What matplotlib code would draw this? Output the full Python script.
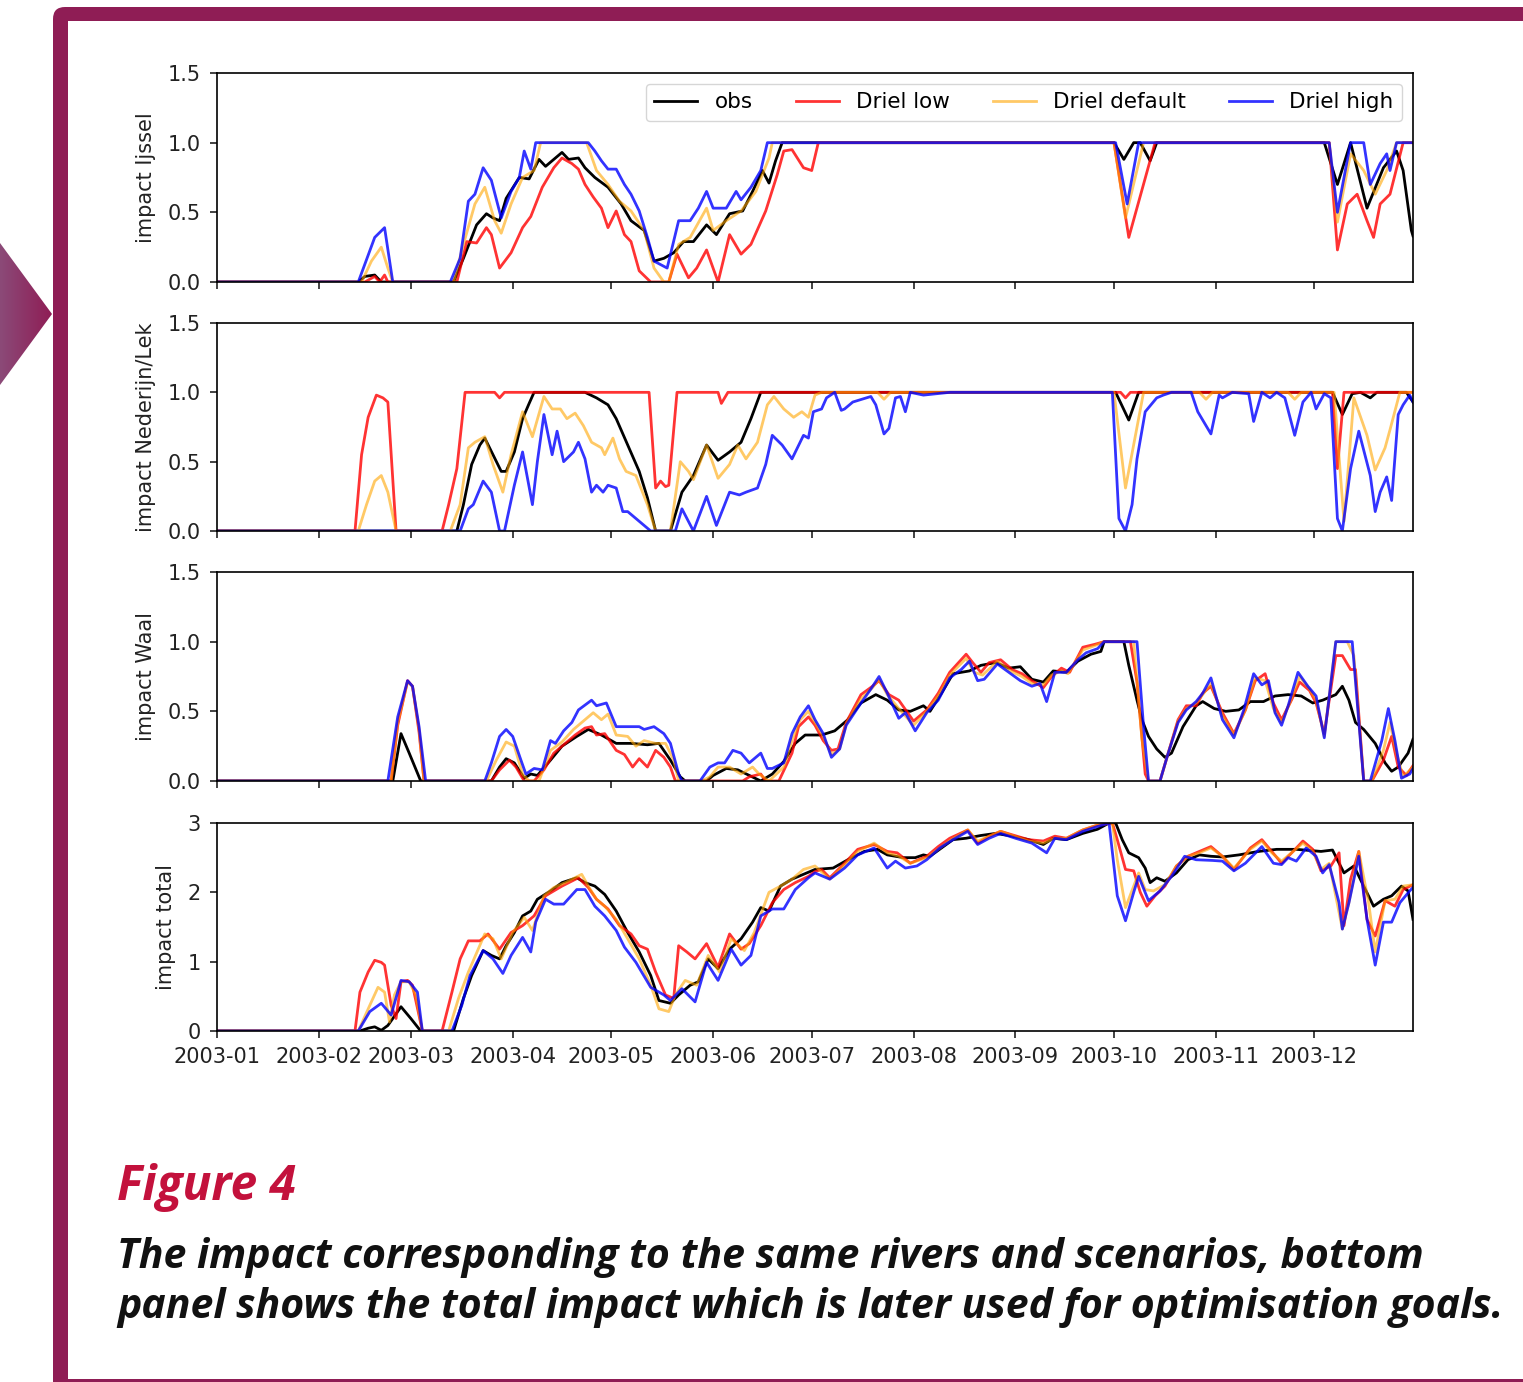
import numpy as np
import matplotlib
matplotlib.use('Agg')
import matplotlib.pyplot as plt
import matplotlib.dates as mdates
from matplotlib.patches import FancyBboxPatch, Rectangle, Polygon
from matplotlib.colors import LinearSegmentedColormap

# ---- data: (day of 2003, impact) pairs ----
series_names = ['obs', 'Driel low', 'Driel default', 'Driel high']

ijssel_obs = [(0, 0), (43, 0), (45, 0.04), (48, 0.05), (50, 0), (72, 0), (75, 0.17), (79, 0.41), (82, 0.49),
              (84, 0.46), (86, 0.44), (88, 0.60), (92, 0.75), (95, 0.74), (98, 0.88), (100, 0.83), (105, 0.93),
              (107, 0.88), (110, 0.89), (112, 0.82), (115, 0.75), (119, 0.68), (123, 0.56), (126, 0.44),
              (130, 0.37), (133, 0.15), (136, 0.17), (139, 0.21), (142, 0.29), (145, 0.29), (149, 0.41),
              (152, 0.34), (156, 0.49), (160, 0.51), (163, 0.65), (166, 0.80), (168, 0.71), (170, 0.87),
              (172, 1.0), (273, 1.0), (276, 0.88), (279, 1.0), (281, 1.0), (284, 0.87), (286, 1.0), (337, 1.0),
              (341, 0.70), (345, 1.0), (350, 0.53), (355, 0.82), (359, 0.94), (361, 0.80), (363.5, 0.37),
              (364, 0.33)]
ijssel_low = [(0, 0), (45, 0), (48, 0.04), (49.5, 0.0), (51, 0.05), (52, 0), (73, 0), (76, 0.29), (79, 0.28),
              (82, 0.39), (83.5, 0.34), (86, 0.10), (89.5, 0.21), (93, 0.39), (95.5, 0.47), (99, 0.68),
              (102.5, 0.82), (105, 0.89), (108, 0.85), (110, 0.81), (112, 0.70), (114.5, 0.61), (117, 0.53),
              (119, 0.39), (121.5, 0.51), (124, 0.34), (126, 0.29), (128.5, 0.08), (132, 0), (137.5, 0),
              (140, 0.20), (143.5, 0.03), (146, 0.10), (149, 0.23), (152.5, 0), (156, 0.34), (159.5, 0.20),
              (162.5, 0.27), (167, 0.51), (170.5, 0.77), (172.5, 0.94), (175, 0.95), (178.5, 0.82), (181, 0.80),
              (183, 1.0), (273, 1.0), (277.5, 0.32), (285.5, 1.0), (338.5, 1.0), (341, 0.23), (344, 0.56),
              (347, 0.63), (350, 0.44), (352, 0.32), (354, 0.56), (357, 0.63), (361, 1.0), (364, 1.0)]
ijssel_default = [(0, 0), (44, 0), (47, 0.15), (50, 0.25), (52, 0.10), (53.5, 0), (72, 0), (75, 0.27),
                  (78.5, 0.56), (81.5, 0.68), (84.5, 0.44), (86.5, 0.35), (89.5, 0.56), (93, 0.75), (96.5, 0.80),
                  (98.5, 1.0), (112.5, 1.0), (115.5, 0.80), (119, 0.70), (122.5, 0.58), (126, 0.51), (130, 0.37),
                  (133, 0.10), (136, 0), (137.5, 0), (140.5, 0.27), (144, 0.32), (149, 0.53), (151, 0.37),
                  (155, 0.44), (159.5, 0.51), (164, 0.65), (168, 0.89), (169, 1.0), (273, 1.0), (276.5, 0.46),
                  (282, 1.0), (338.5, 1.0), (341, 0.43), (345, 0.92), (349, 0.80), (352.5, 0.63), (356, 0.80),
                  (359, 1.0), (364, 1.0)]
ijssel_high = [(0, 0), (43, 0), (48, 0.32), (51, 0.39), (53.5, 0), (71, 0), (74, 0.17), (76.5, 0.58),
               (78.5, 0.63), (81, 0.82), (83.5, 0.73), (86.5, 0.46), (89.5, 0.65), (92, 0.75), (93.5, 0.94),
               (95.5, 0.81), (97, 1.0), (113, 1.0), (115, 0.94), (117, 0.87), (119, 0.81), (121.5, 0.81),
               (124, 0.70), (126, 0.63), (128.5, 0.51), (131, 0.32), (133, 0.15), (137, 0.10), (140.5, 0.44),
               (144, 0.44), (146.5, 0.53), (149, 0.65), (151, 0.53), (155, 0.53), (158, 0.65), (159.5, 0.59),
               (162.5, 0.68), (165.5, 0.80), (167.5, 1.0), (273.5, 1.0), (277, 0.56), (280.5, 1.0),
               (338.5, 1.0), (341, 0.50), (345, 1.0), (349, 1.0), (351, 0.70), (354, 0.85), (356, 0.92),
               (357, 0.80), (359, 1.0), (364, 1.0)]

lek_obs = [(0, 0), (73, 0), (75, 0.19), (77.5, 0.48), (80, 0.62), (81.5, 0.67), (84, 0.55), (86.5, 0.43),
           (88, 0.43), (90.5, 0.57), (93, 0.81), (95, 0.92), (96.5, 1.0), (112, 1.0), (115.5, 0.96), (119, 0.91),
           (121.5, 0.81), (125, 0.62), (128.5, 0.43), (131, 0.24), (133.5, 0), (138, 0), (141.5, 0.28),
           (145, 0.40), (149, 0.62), (152.5, 0.51), (156, 0.57), (159.5, 0.64), (162.5, 0.81), (165.5, 1.0),
           (273.5, 1.0), (277.5, 0.80), (280.5, 1.0), (339.5, 1.0), (342.5, 0.84), (345.5, 0.99), (348, 1.0),
           (351, 0.96), (353, 1.0), (362, 1.0), (364, 0.93)]
lek_low = [(0, 0), (42, 0), (44, 0.55), (46, 0.82), (48.5, 0.98), (50.5, 0.96), (52, 0.93), (54.5, 0),
           (68.5, 0), (70.5, 0.19), (73, 0.45), (75.5, 1.0), (84.5, 1.0), (86, 0.96), (87.5, 1.0), (131.5, 1.0),
           (133.5, 0.31), (135, 0.36), (136.5, 0.32), (137.5, 0.33), (140, 1.0), (152.5, 1.0), (153.5, 0.92),
           (155.5, 1.0), (275, 1.0), (276.5, 0.96), (278, 1.0), (339.5, 1.0), (341, 0.45), (343, 1.0),
           (364, 1.0)]
lek_default = [(0, 0), (43, 0), (45.5, 0.19), (48, 0.36), (50, 0.40), (52, 0.28), (54.5, 0), (71, 0),
               (74, 0.19), (76.5, 0.60), (78.5, 0.64), (81.5, 0.68), (84, 0.48), (87, 0.28), (89.5, 0.55),
               (93, 0.86), (96, 0.68), (99.5, 0.97), (102, 0.88), (104.5, 0.88), (106.5, 0.81), (109, 0.85),
               (111.5, 0.76), (114, 0.64), (117, 0.60), (118, 0.55), (120.5, 0.67), (122.5, 0.52), (124.5, 0.43),
               (127.5, 0.40), (131, 0.19), (133.5, 0), (138, 0), (141, 0.50), (143.5, 0.43), (145, 0.37),
               (149, 0.62), (152.5, 0.38), (156, 0.48), (158.5, 0.62), (161, 0.52), (164.5, 0.64), (167.5, 0.91),
               (169.5, 0.97), (172.5, 0.88), (175.5, 0.82), (178, 0.86), (180, 0.82), (182, 0.98), (184, 1.0),
               (201, 1.0), (203, 0.95), (205, 1.0), (273, 1.0), (276.5, 0.31), (282, 1.0), (299, 1.0),
               (301, 0.95), (303, 1.0), (326, 1.0), (328, 0.95), (330, 1.0), (340, 1.0), (343, 0.07), (346, 0.96),
               (350, 0.69), (352.5, 0.44), (355.5, 0.60), (357, 0.73), (360, 1.0), (364, 1.0)]
lek_high = [(0, 0), (74, 0), (76.5, 0.16), (78, 0.19), (81, 0.36), (83.5, 0.28), (86, 0), (87.5, 0),
            (90.5, 0.33), (93, 0.57), (96, 0.19), (97.5, 0.50), (99.5, 0.84), (102, 0.55), (103.5, 0.72),
            (105.5, 0.50), (108.5, 0.57), (110, 0.64), (112, 0.52), (114, 0.28), (115.5, 0.33), (117.5, 0.28),
            (119, 0.33), (121.5, 0.31), (123.5, 0.14), (125, 0.14), (127.5, 0.09), (130, 0.04), (132, 0),
            (139.5, 0), (141.5, 0.16), (145, 0), (149, 0.25), (152, 0.04), (156, 0.28), (159, 0.26), (161, 0.28),
            (164.5, 0.31), (167, 0.48), (169, 0.69), (172, 0.62), (175, 0.52), (178.5, 0.69), (180, 0.67),
            (181.5, 0.86), (184, 0.88), (185.5, 0.96), (188, 1.0), (190, 0.87), (191, 0.88), (193.5, 0.93),
            (199, 0.97), (200.5, 0.91), (203, 0.70), (204.5, 0.74), (206.5, 0.96), (208, 0.97), (209.5, 0.86),
            (211, 1.0), (215, 0.98), (219, 0.99), (223, 1.0), (272.5, 1.0), (274.5, 0.09), (276.5, 0),
            (278.5, 0.19), (280, 0.52), (282.5, 0.86), (286, 0.96), (288, 0.98), (290.5, 1.0), (296.5, 1.0),
            (298.5, 0.86), (302.5, 0.70), (305, 0.98), (306, 0.96), (309, 1.0), (314, 0.99), (315.5, 0.79),
            (318, 1.0), (320.5, 0.96), (322.5, 1.0), (325, 0.96), (328, 0.69), (330.5, 0.93), (333, 1.0),
            (334.5, 0.88), (337, 0.99), (339, 0.96), (341, 0.09), (342.5, 0), (345, 0.45), (347.5, 0.72),
            (351, 0.40), (352.5, 0.14), (354, 0.28), (356, 0.39), (357.5, 0.22), (359.5, 0.84), (361, 0.91),
            (363, 0.98), (364, 0.93)]

waal_obs = [(0, 0), (53.5, 0), (56, 0.34), (58.5, 0.20), (62, 0), (83.5, 0), (86, 0.10), (88, 0.16),
            (90.5, 0.13), (93.5, 0.02), (95.5, 0.05), (97.5, 0.04), (101.5, 0.15), (105, 0.25), (109.5, 0.32),
            (113, 0.37), (117, 0.33), (121.5, 0.27), (126, 0.27), (131, 0.26), (134.5, 0.27), (138, 0.15),
            (141, 0.03), (142.5, 0), (149, 0), (151, 0.04), (155, 0.09), (158.5, 0.08), (162, 0.04),
            (165.5, 0), (169, 0.05), (172.5, 0.14), (176, 0.27), (179, 0.33), (182, 0.33), (184, 0.33),
            (188, 0.36), (192, 0.44), (196, 0.56), (200.5, 0.62), (204, 0.58), (207.5, 0.51), (211, 0.50),
            (215, 0.54), (217, 0.50), (220.5, 0.63), (224, 0.77), (229, 0.79), (232.5, 0.83), (237, 0.85),
            (241, 0.81), (244.5, 0.82), (248, 0.73), (251.5, 0.71), (254.5, 0.79), (258.5, 0.78), (262, 0.86),
            (266, 0.91), (269, 0.93), (270, 1.0), (276, 1.0), (277.5, 0.83), (280, 0.58), (281.5, 0.44),
            (283.5, 0.32), (286, 0.23), (288.5, 0.17), (290.5, 0.20), (294, 0.39), (298, 0.54), (300, 0.57),
            (303.5, 0.52), (307, 0.50), (311, 0.51), (314.5, 0.57), (318.5, 0.57), (322, 0.61), (326, 0.62),
            (330, 0.61), (333.5, 0.56), (336.5, 0.58), (340.5, 0.62), (342.5, 0.68), (344.5, 0.58),
            (346.5, 0.42), (349, 0.37), (352.5, 0.27), (355.5, 0.13), (357.5, 0.07), (359.5, 0.10),
            (362.5, 0.20), (364, 0.30)]
waal_low = [(0, 0), (53, 0), (55, 0.40), (58, 0.72), (59.5, 0.68), (61.5, 0.35), (63, 0), (83.5, 0),
            (86, 0.08), (89, 0.15), (91, 0.10), (93.5, 0), (96.5, 0), (99.5, 0.08), (102.5, 0.20), (106, 0.27),
            (109, 0.33), (112, 0.38), (114, 0.39), (115.5, 0.33), (118, 0.34), (121.5, 0.22), (124, 0.19),
            (126.5, 0.10), (128.5, 0.16), (131, 0.10), (133.5, 0.22), (136, 0.17), (138, 0.10), (139.5, 0),
            (160, 0), (162, 0.03), (165.5, 0.05), (167, 0), (171, 0), (175, 0.20), (177, 0.39), (180, 0.46),
            (182, 0.40), (184.5, 0.29), (187, 0.22), (189, 0.23), (191.5, 0.42), (196, 0.62), (199.5, 0.68),
            (201.5, 0.72), (204.5, 0.62), (207.5, 0.58), (212, 0.43), (216, 0.51), (219.5, 0.63), (223, 0.78),
            (228, 0.91), (230, 0.85), (232.5, 0.78), (235, 0.85), (238.5, 0.87), (242, 0.80), (245, 0.77),
            (248, 0.72), (251.5, 0.67), (254, 0.75), (257, 0.81), (259.5, 0.78), (263.5, 0.96), (267, 0.98),
            (270, 1.0), (278, 1.0), (280, 0.71), (282.5, 0.05), (283.5, 0), (287, 0), (289.5, 0.20),
            (292.5, 0.44), (295, 0.54), (298, 0.54), (300, 0.63), (302.5, 0.68), (306, 0.49), (309.5, 0.34),
            (313, 0.51), (316, 0.72), (319, 0.77), (321.5, 0.56), (324, 0.44), (327, 0.58), (329.5, 0.71),
            (332.5, 0.65), (334.5, 0.56), (337, 0.34), (340.5, 0.90), (342.5, 0.90), (345, 0.80), (346.5, 0.80),
            (349, 0), (351.5, 0), (355, 0.15), (357.5, 0.32), (359.5, 0.10), (362, 0.04), (364, 0.11)]
waal_default = [(0, 0), (53, 0), (55, 0.42), (58, 0.71), (59.5, 0.68), (61.5, 0.37), (63, 0), (82, 0),
                (85, 0.15), (88, 0.28), (90.5, 0.25), (93, 0.05), (95, 0), (98, 0), (101.5, 0.22), (105, 0.28),
                (108.5, 0.37), (112, 0.44), (114.5, 0.49), (117, 0.44), (119, 0.48), (121.5, 0.33), (125, 0.32),
                (127.5, 0.25), (130, 0.29), (133.5, 0.27), (136.5, 0.27), (139, 0.15), (140.5, 0), (147.5, 0),
                (150, 0.03), (152.5, 0.10), (156, 0.10), (159.5, 0.05), (163, 0.10), (165, 0.05), (168, 0),
                (172.5, 0.10), (175, 0.29), (177.5, 0.44), (180, 0.50), (182, 0.42), (184.5, 0.32), (187, 0.19),
                (189.5, 0.23), (191.5, 0.41), (196, 0.59), (199.5, 0.67), (201.5, 0.73), (204, 0.62),
                (207.5, 0.52), (212, 0.40), (216, 0.50), (219.5, 0.61), (223, 0.76), (228, 0.88), (230.5, 0.78),
                (233, 0.76), (237.5, 0.86), (241.5, 0.79), (245, 0.75), (248, 0.70), (251.5, 0.69), (254, 0.76),
                (257, 0.79), (259, 0.77), (263.5, 0.94), (267, 0.97), (270, 1.0), (279, 1.0), (281.5, 0.30),
                (283.5, 0), (287, 0), (289.5, 0.20), (292.5, 0.43), (295, 0.52), (298, 0.56), (300, 0.62),
                (302.5, 0.70), (306, 0.47), (309.5, 0.33), (313, 0.51), (316, 0.74), (319, 0.72), (321.5, 0.52),
                (324, 0.42), (326.5, 0.56), (329.5, 0.75), (332.5, 0.66), (334.5, 0.58), (337, 0.32),
                (340.5, 1.0), (344, 1.0), (346, 0.90), (349, 0), (351.5, 0), (355, 0.22), (357, 0.42),
                (359, 0.20), (361, 0.03), (364, 0.10)]
waal_high = [(0, 0), (52, 0), (55, 0.46), (58, 0.72), (59.5, 0.68), (61.5, 0.39), (63.5, 0), (81.5, 0),
             (83.5, 0.13), (86, 0.32), (88, 0.37), (90, 0.32), (92.5, 0.15), (94, 0.05), (96.5, 0.09), (99, 0.08),
             (101.5, 0.29), (103, 0.27), (105.5, 0.36), (108, 0.42), (110, 0.51), (114, 0.58), (115.5, 0.54),
             (118.5, 0.56), (121.5, 0.39), (125, 0.39), (128.5, 0.39), (130, 0.37), (133, 0.39), (136, 0.34),
             (138, 0.27), (140.5, 0.05), (141.5, 0), (147, 0), (150, 0.10), (152.5, 0.13), (154.5, 0.13),
             (157, 0.22), (159.5, 0.20), (162, 0.13), (165.5, 0.20), (167.5, 0.09), (169, 0.09), (172.5, 0.13),
             (175, 0.34), (177.5, 0.46), (180, 0.54), (182, 0.44), (184.5, 0.34), (187, 0.17), (189.5, 0.23),
             (191.5, 0.40), (196, 0.56), (199, 0.66), (201.5, 0.75), (204, 0.63), (207.5, 0.45), (209.5, 0.49),
             (212.5, 0.36), (216, 0.49), (219.5, 0.58), (223, 0.74), (226.5, 0.80), (229, 0.86), (231.5, 0.72),
             (233.5, 0.73), (237.5, 0.84), (241, 0.78), (244.5, 0.72), (248, 0.68), (250.5, 0.70),
             (252.5, 0.57), (255, 0.78), (258.5, 0.78), (262, 0.87), (264.5, 0.92), (268, 0.95), (270, 1.0),
             (280, 1.0), (282, 0.39), (283.5, 0), (287, 0), (289.5, 0.20), (292.5, 0.42), (295, 0.51),
             (298, 0.57), (300, 0.63), (302.5, 0.74), (306, 0.44), (309.5, 0.31), (312.5, 0.51), (315.5, 0.77),
             (318, 0.69), (320, 0.72), (322, 0.49), (324, 0.40), (326, 0.54), (329, 0.78), (332, 0.68),
             (334.5, 0.61), (337, 0.31), (340.5, 1.0), (345.5, 1.0), (349, 0), (351, 0), (354.5, 0.29),
             (356.5, 0.52), (358.5, 0.29), (360.5, 0.02), (363, 0.05), (364, 0.09)]

total_obs = [(0, 0), (43.5, 0), (46, 0.04), (48, 0.06), (50, 0.01), (52, 0.08), (53.5, 0.18), (56, 0.35),
             (59, 0.18), (62, 0), (72, 0), (75, 0.47), (77.5, 0.80), (81, 1.16), (83.5, 1.09), (86, 1.04),
             (88, 1.23), (90.5, 1.42), (93, 1.66), (95.5, 1.73), (97.5, 1.90), (101.5, 2.02), (105, 2.14),
             (109.5, 2.21), (112, 2.14), (115, 2.09), (118, 1.97), (121.5, 1.73), (125, 1.42), (128.5, 1.14),
             (132, 0.80), (134.5, 0.44), (138, 0.40), (140.5, 0.52), (144, 0.66), (146.5, 0.71), (149.5, 1.04),
             (152.5, 0.90), (156, 1.18), (159.5, 1.33), (163, 1.57), (165.5, 1.78), (168, 1.73), (171.5, 2.09),
             (175, 2.19), (178.5, 2.26), (182, 2.33), (187.5, 2.35), (192, 2.47), (197, 2.59), (201, 2.62),
             (204, 2.54), (209, 2.50), (212.5, 2.50), (215, 2.54), (217, 2.52), (220.5, 2.64), (224, 2.76),
             (228, 2.78), (232.5, 2.82), (237, 2.85), (242, 2.81), (247, 2.76), (251.5, 2.69), (254.5, 2.78),
             (258.5, 2.76), (263.5, 2.85), (268, 2.91), (271.5, 3.0), (273.5, 3.0), (275.5, 2.76), (277.5, 2.57),
             (280.5, 2.50), (282.5, 2.35), (284, 2.14), (286, 2.21), (288.5, 2.16), (292, 2.28), (295.5, 2.47),
             (299, 2.54), (302.5, 2.52), (306, 2.51), (311, 2.54), (317, 2.59), (322.5, 2.62), (328.5, 2.62),
             (336, 2.59), (339.5, 2.61), (341.5, 2.42), (343, 2.28), (346, 2.38), (349, 2.09), (352, 1.80),
             (355, 1.90), (357.5, 1.95), (360.5, 2.09), (362.5, 2.02), (364, 1.61)]
total_low = [(0, 0), (42, 0), (43.5, 0.56), (46, 0.85), (48, 1.02), (50, 0.99), (51, 0.95), (53, 0.37),
             (54.5, 0.18), (56, 0.71), (58, 0.73), (59.5, 0.66), (62.5, 0), (68.5, 0), (71.5, 0.56), (74, 1.04),
             (76.5, 1.30), (80, 1.30), (82.5, 1.40), (86, 1.18), (89.5, 1.42), (93, 1.52), (96.5, 1.66),
             (100, 1.95), (105, 2.09), (110, 2.21), (113, 2.07), (115.5, 1.90), (119, 1.76), (122.5, 1.52),
             (126, 1.40), (128.5, 1.23), (131, 1.18), (133.5, 0.85), (136.5, 0.52), (139, 0.47), (140.5, 1.23),
             (143, 1.14), (145.5, 1.04), (149, 1.26), (152.5, 0.92), (156, 1.40), (159.5, 1.18), (162, 1.26),
             (165.5, 1.52), (169, 1.85), (172.5, 2.04), (176, 2.14), (180, 2.23), (182, 2.30), (184, 2.33),
             (186.5, 2.21), (191, 2.42), (195, 2.62), (200, 2.69), (204, 2.59), (207, 2.57), (211, 2.42),
             (216, 2.52), (219.5, 2.66), (223, 2.78), (228.5, 2.90), (231.5, 2.71), (235, 2.81), (238.5, 2.88),
             (242, 2.83), (247, 2.76), (251.5, 2.74), (255, 2.81), (258.5, 2.78), (263.5, 2.90), (268, 2.97),
             (272.5, 3.0), (274, 2.76), (276.5, 2.33), (279, 2.31), (281, 2.00), (283, 1.80), (285.5, 1.95),
             (288.5, 2.09), (292, 2.38), (295.5, 2.52), (299, 2.59), (302.5, 2.66), (306, 2.52), (309.5, 2.33),
             (314.5, 2.64), (318, 2.76), (321, 2.59), (324, 2.42), (327.5, 2.59), (330.5, 2.74), (333.5, 2.62),
             (336, 2.31), (339, 2.38), (341.5, 2.57), (343, 1.52), (345, 2.19), (347.5, 2.59), (350, 1.61),
             (352.5, 1.37), (355.5, 1.88), (358.5, 1.80), (361, 2.04), (364, 2.11)]
total_default = [(0, 0), (43, 0), (46.5, 0.37), (49, 0.63), (51, 0.56), (52.5, 0.13), (54, 0.52), (56, 0.71),
                 (58.5, 0.71), (60.5, 0.52), (62.5, 0), (70.5, 0), (73.5, 0.47), (76.5, 0.85), (79.5, 1.18),
                 (81.5, 1.40), (84, 1.33), (86.5, 1.04), (90, 1.42), (93.5, 1.64), (96, 1.45), (99.5, 1.95),
                 (102.5, 2.07), (106, 2.14), (111, 2.26), (113, 2.09), (115.5, 1.90), (118, 1.80), (121.5, 1.61),
                 (125, 1.33), (128.5, 1.04), (132, 0.66), (134.5, 0.32), (137.5, 0.28), (139.5, 0.52),
                 (142.5, 0.73), (146, 0.66), (149.5, 1.09), (153, 0.85), (156.5, 1.33), (160.5, 1.16),
                 (163.5, 1.42), (168, 2.00), (171.5, 2.09), (175, 2.19), (178.5, 2.33), (182, 2.38),
                 (186.5, 2.19), (191, 2.40), (195, 2.59), (200, 2.71), (204, 2.57), (207.5, 2.52), (211, 2.42),
                 (216, 2.50), (220, 2.64), (223.5, 2.76), (228.5, 2.90), (231.5, 2.74), (235, 2.81),
                 (238.5, 2.88), (242, 2.82), (247, 2.74), (251.5, 2.71), (255, 2.78), (258.5, 2.78),
                 (263.5, 2.90), (268, 2.97), (272.5, 3.0), (274, 2.47), (276.5, 1.78), (279, 2.09),
                 (280.5, 2.28), (282.5, 2.04), (285, 2.02), (288.5, 2.11), (292, 2.38), (295.5, 2.52),
                 (299, 2.57), (302.5, 2.64), (306, 2.52), (309.5, 2.35), (314.5, 2.62), (318, 2.74), (321, 2.57),
                 (324, 2.45), (327.5, 2.59), (330.5, 2.71), (333.5, 2.59), (336, 2.33), (338.5, 2.42),
                 (342.5, 1.47), (344.5, 1.85), (347.5, 2.59), (350.5, 1.85), (352.5, 1.14), (355.5, 1.88),
                 (358.5, 1.90), (361, 2.09), (364, 2.11)]
total_high = [(0, 0), (43, 0), (46.5, 0.28), (50, 0.40), (53, 0.23), (56, 0.73), (58.5, 0.71), (61, 0.56),
              (62.5, 0), (71.5, 0), (74.5, 0.37), (77, 0.80), (81, 1.16), (84, 1.04), (87, 0.83), (89.5, 1.09),
              (93, 1.35), (95.5, 1.14), (97, 1.57), (100, 1.90), (102.5, 1.83), (105.5, 1.83), (109.5, 2.04),
              (112, 2.04), (115, 1.80), (118, 1.66), (121.5, 1.45), (124, 1.21), (127.5, 0.99), (132, 0.63),
              (136, 0.52), (138, 0.44), (141.5, 0.61), (145.5, 0.42), (149, 0.99), (152.5, 0.73), (156.5, 1.18),
              (159.5, 0.95), (162.5, 1.09), (165.5, 1.66), (169, 1.76), (172.5, 1.76), (176, 2.04), (180, 2.21),
              (182, 2.28), (186.5, 2.19), (191, 2.35), (195, 2.54), (200, 2.64), (204, 2.35), (206.5, 2.45),
              (209.5, 2.35), (213, 2.38), (216, 2.47), (220, 2.64), (224, 2.76), (228.5, 2.88), (231.5, 2.69),
              (235, 2.78), (238.5, 2.85), (243, 2.78), (248, 2.71), (252.5, 2.57), (255, 2.78), (258.5, 2.76),
              (263.5, 2.88), (268, 2.95), (271.5, 3.0), (274, 1.95), (276.5, 1.59), (279, 2.00), (280.5, 2.23),
              (283.5, 1.88), (287, 2.02), (290.5, 2.23), (294.5, 2.52), (298, 2.47), (303, 2.46), (306, 2.45),
              (309.5, 2.31), (313, 2.42), (318, 2.66), (321.5, 2.42), (324, 2.40), (326, 2.50), (328.5, 2.45),
              (331.5, 2.64), (334.5, 2.52), (336.5, 2.28), (338.5, 2.40), (341.5, 1.85), (342.5, 1.47),
              (344.5, 1.85), (347.5, 2.52), (350, 1.61), (352.5, 0.95), (355, 1.57), (357.5, 1.57), (360, 1.85),
              (363, 2.02), (364, 2.07)]

panel_labels = ['impact Ijssel', 'impact Nederijn/Lek', 'impact Waal', 'impact total']
panel_data = [[ijssel_obs, ijssel_low, ijssel_default, ijssel_high],
              [lek_obs, lek_low, lek_default, lek_high],
              [waal_obs, waal_low, waal_default, waal_high],
              [total_obs, total_low, total_default, total_high]]
panel_yticks = [[0, 0.5, 1.0, 1.5], [0, 0.5, 1.0, 1.5], [0, 0.5, 1.0, 1.5], [0, 1, 2, 3]]

caption_title = 'Figure 4'
caption_lines = ['The impact corresponding to the same rivers and scenarios, bottom',
                 'panel shows the total impact which is later used for optimisation goals.']

# ---- styling ----
line_colors = ['black', 'red', 'orange', 'blue']
line_alphas = [1.0, 0.8, 0.6, 0.8]
frame_color = '#8f1d55'
W, H = 1523, 1382

fig = plt.figure(figsize=(W / 100, H / 100), dpi=100)

# page decoration: frame and arrow, in pixel coordinates
bg = fig.add_axes([0, 0, 1, 1], zorder=-1)
bg.add_patch(FancyBboxPatch((53, 7), 1700, 1600, boxstyle='round,pad=0,rounding_size=12',
                            facecolor=frame_color, edgecolor='none'))
bg.add_patch(Rectangle((68, 21), 1700, 1379 - 21, facecolor='white', edgecolor='none'))
tri = Polygon([(0, 243), (52, 314), (0, 385)], closed=True, facecolor='none', edgecolor='none')
bg.add_patch(tri)
grad_cmap = LinearSegmentedColormap.from_list('arrow', ['#8b4a78', frame_color])
im = bg.imshow(np.linspace(0, 1, 64).reshape(1, -1), extent=(0, 52, 385, 243), cmap=grad_cmap,
               aspect='auto', interpolation='bilinear')
im.set_clip_path(tri)
bg.set_xlim(0, W)
bg.set_ylim(H, 0)
bg.axis('off')

d0 = mdates.date2num(np.datetime64('2003-01-01'))
left, width = 217 / W, (1413 - 217) / W
tops = [73, 323, 572, 823]
bottoms = [282, 531, 781, 1031]

axes = []
for i in range(4):
    ax = fig.add_axes([left, 1 - bottoms[i] / H, width, (bottoms[i] - tops[i]) / H])
    for pts, name, c, a in zip(panel_data[i], series_names, line_colors, line_alphas):
        d, v = zip(*pts)
        ax.plot(d0 + np.array(d), v, color=c, alpha=a, lw=2.0, label=name)
    ax.set_xlim(d0, d0 + 364)
    yt = panel_yticks[i]
    ax.set_ylim(yt[0], yt[-1])
    ax.set_yticks(yt)
    ax.xaxis.set_major_locator(mdates.MonthLocator())
    ax.xaxis.set_major_formatter(mdates.DateFormatter('%Y-%m'))
    ax.tick_params(labelsize=15, length=5, width=1.2, pad=6.5, colors='#222222')
    ax.tick_params(axis='x', labelbottom=(i == 3))
    for s in ax.spines.values():
        s.set_linewidth(1.2)
    ax.set_ylabel(panel_labels[i], fontsize=15, color='#222222', labelpad=8.5)
    axes.append(ax)

axes[0].legend(ncol=4, loc='upper right', fontsize=15.5)

cap_kw = dict(family='Open Sans', fontweight='bold', fontstyle='italic', va='baseline', ha='left')
fig.text(117 / W, 1 - 1200 / H, caption_title, color='#c3113c', fontsize=34.5, **cap_kw)
fig.text(117 / W, 1 - 1268 / H, caption_lines[0], color='#111111', fontsize=29.5, **cap_kw)
fig.text(117 / W, 1 - 1318 / H, caption_lines[1], color='#111111', fontsize=29.5, **cap_kw)

fig.savefig('out.png', dpi=100)
